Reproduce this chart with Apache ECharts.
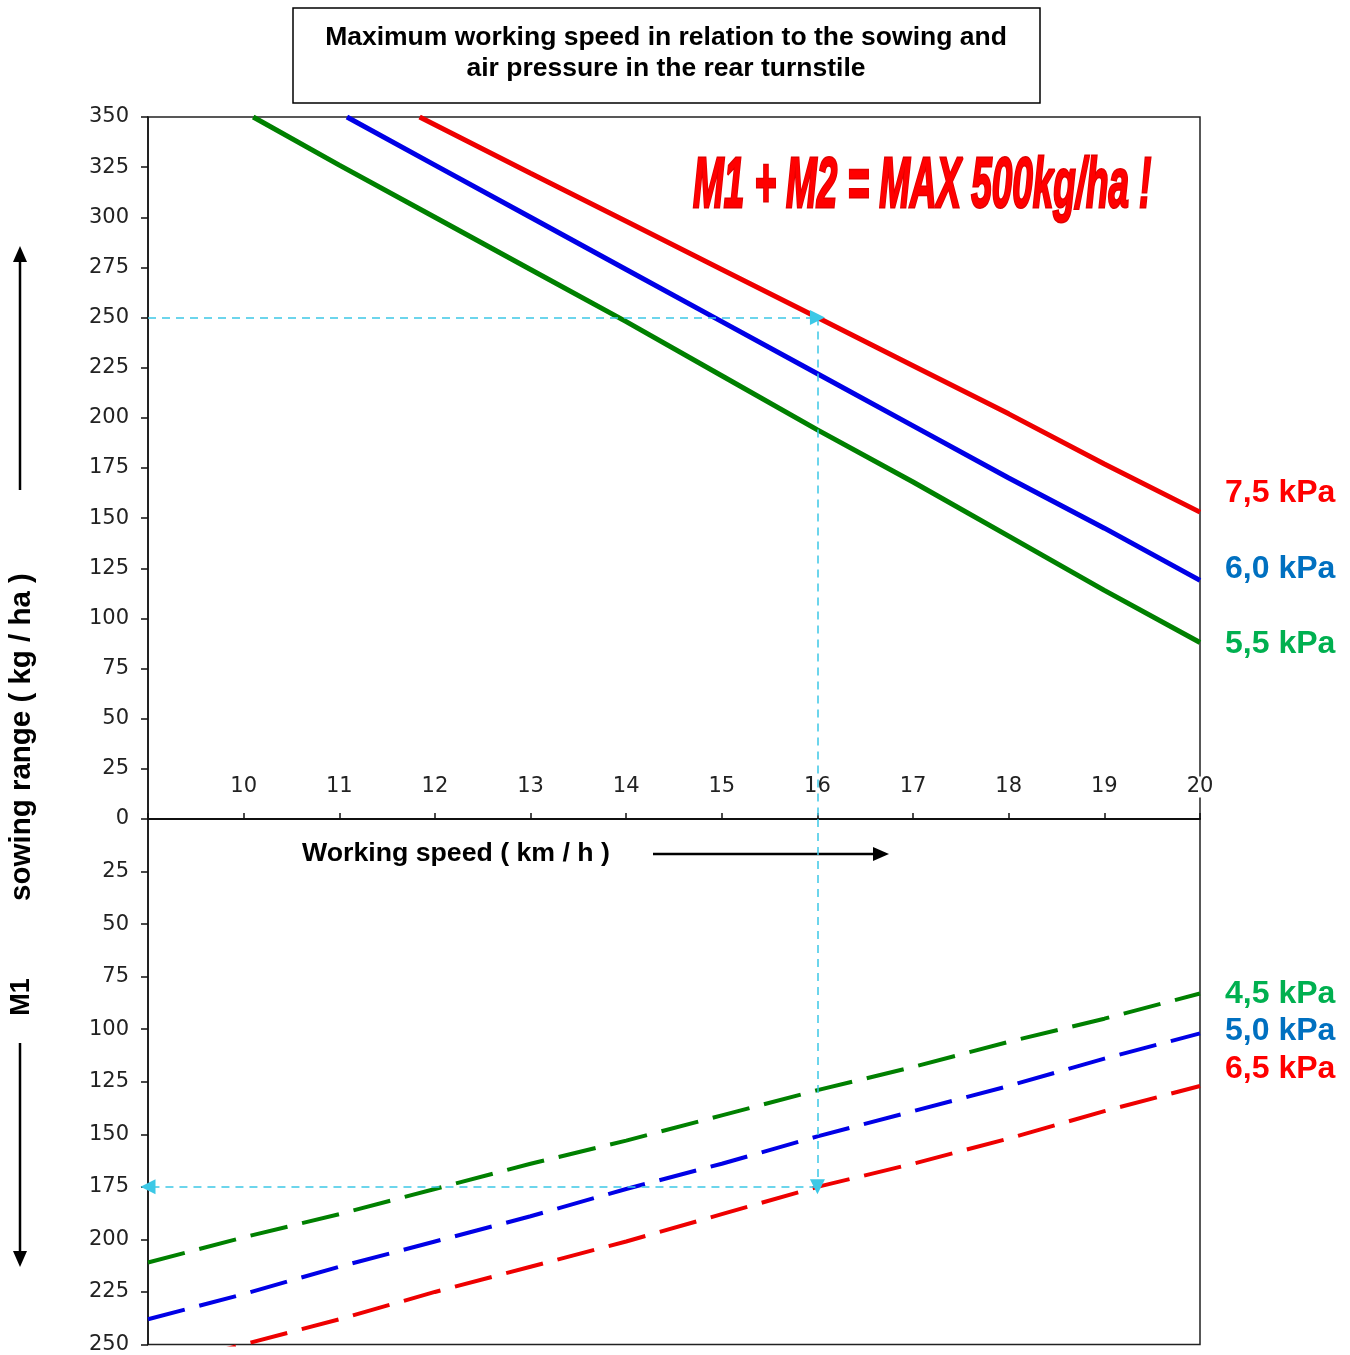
<!DOCTYPE html>
<html>
<head>
	<meta charset="utf-8">
	<title>Maximum working speed</title>
	<script type="text/javascript" src="https://cdn.jsdelivr.net/npm/echarts@6/dist/echarts.min.js"></script>
	<style type="text/css">
		body{ margin:0; background:#fff; }
		#chart{ width:1350px; height:1355px; }
	</style>
</head>
<body>
	<div id="chart"></div>
<script type="text/javascript">
	// upper part: sowing rate (kg/ha) vs working speed, per air pressure
	var speedRed75   = [11.84, 13, 14, 15, 16, 17, 18, 19, 20];
	var rateRed75    = [350, 322, 298, 274, 250, 226, 202, 177, 153];
	var speedBlue60  = [11.08, 12, 13, 14, 15, 16, 17, 18, 19, 20];
	var rateBlue60   = [350, 326, 300, 274, 248, 222, 196, 170, 145, 119];
	var speedGreen55 = [10.1, 11, 12, 13, 14, 15, 16, 17, 18, 19, 20];
	var rateGreen55  = [350, 326, 300, 274, 248, 221, 194, 168, 141, 114, 88];

	// lower part: M1 (kg/ha), axis pointing down
	var speedLow     = [9, 10, 11, 12, 13, 14, 15, 16, 17, 18, 19, 20];
	var rateGreen45  = [211, 199, 188, 176, 164, 153, 141, 129, 118, 106, 95, 83];
	var rateBlue50   = [238, 226, 213, 201, 189, 176, 164, 151, 139, 127, 114, 102];
	var rateRed65    = [262, 250, 238, 225, 213, 201, 188, 175, 164, 152, 139, 127];

	var labelsTop = [
		{ text: '7,5 kPa', color: '#ff0000', y: 493 },
		{ text: '6,0 kPa', color: '#0070c0', y: 569 },
		{ text: '5,5 kPa', color: '#00b050', y: 644 }
	];
	var labelsLow = [
		{ text: '4,5 kPa', color: '#00b050', y: 994 },
		{ text: '5,0 kPa', color: '#0070c0', y: 1031 },
		{ text: '6,5 kPa', color: '#ff0000', y: 1069 }
	];

	var FONT = '"Liberation Sans", Arial, sans-serif';
	var TICKFONT = '"DejaVu Sans", Verdana, sans-serif';
	var guide = '#3cc8e6';

	function pairs(xs, ys){
		var out = [];
		for (var i = 0; i < xs.length; i++) out.push([xs[i], ys[i]]);
		return out;
	}

	function lineSeries(name, xs, ys, color, grid, dashed){
		return {
			name: name,
			type: 'line',
			xAxisIndex: grid,
			yAxisIndex: grid,
			data: pairs(xs, ys),
			symbol: 'none',
			clip: true,
			silent: true,
			lineStyle: { color: color, width: dashed ? 4 : 5, type: dashed ? [38, 15] : 'solid' }
		};
	}

	function arrow(x1, y1, x2, y2){
		var ang = Math.atan2(y2 - y1, x2 - x1);
		var L = 16, W = 7;
		var bx = x2 - L * Math.cos(ang), by = y2 - L * Math.sin(ang);
		var nx = -Math.sin(ang) * W, ny = Math.cos(ang) * W;
		return [
			{ type: 'line', shape: { x1: x1, y1: y1, x2: bx, y2: by }, style: { stroke: '#000', lineWidth: 2.5 } },
			{ type: 'polygon', shape: { points: [[x2, y2], [bx + nx, by + ny], [bx - nx, by - ny]] }, style: { fill: '#000' } }
		];
	}

	var graphics = [
		{ type: 'rect', shape: { x: 293, y: 8, width: 747, height: 95 }, style: { fill: '#fff', stroke: '#000', lineWidth: 1.5 } },
		{ type: 'text', x: 666, y: 53, style: {
			text: 'Maximum working speed in relation to the sowing and\nair pressure in the rear turnstile',
			font: 'bold 26.5px ' + FONT, fill: '#000', align: 'center', verticalAlign: 'middle', lineHeight: 31 } },
		{ type: 'text', x: 693, y: 188, scaleX: 0.526, style: {
			text: 'M1 + M2 = MAX 500kg/ha !',
			font: 'italic bold 70px ' + FONT, fill: '#ff0000', stroke: '#e00000', lineWidth: 3,
			align: 'left', verticalAlign: 'middle',
			shadowColor: 'rgba(90,0,0,0.45)', shadowOffsetX: 2, shadowOffsetY: 3, shadowBlur: 2 } },
		{ type: 'text', x: 22, y: 737, rotation: Math.PI / 2, style: {
			text: 'sowing range ( kg / ha )', font: 'bold 29.5px ' + FONT, fill: '#000', align: 'center', verticalAlign: 'middle' } },
		{ type: 'text', x: 22, y: 997, rotation: Math.PI / 2, style: {
			text: 'M1', font: 'bold 27px ' + FONT, fill: '#000', align: 'center', verticalAlign: 'middle' } },
		{ type: 'text', x: 302, y: 854, style: {
			text: 'Working speed ( km / h )', font: 'bold 26.7px ' + FONT, fill: '#000', align: 'left', verticalAlign: 'middle' } }
	];
	graphics = graphics.concat(arrow(20, 490, 20, 246), arrow(20, 1043, 20, 1267), arrow(653, 854, 889, 854));
	labelsTop.concat(labelsLow).forEach(function(l){
		graphics.push({ type: 'text', x: 1225, y: l.y, style: {
			text: l.text, font: 'bold 32px ' + FONT, fill: l.color, align: 'left', verticalAlign: 'middle' } });
	});

	var myChart = echarts.init(document.getElementById('chart'));
	var option = {
		animation: false,
		grid: [
			{ left: 148, right: 150, top: 117, height: 702, show: true, borderColor: '#222', borderWidth: 1.5 },
			{ left: 148, right: 150, top: 819, height: 526, show: true, borderColor: '#222', borderWidth: 1.5 }
		],
		xAxis: [
			{
				gridIndex: 0, type: 'value', min: 9, max: 20, interval: 1, position: 'bottom',
				splitLine: { show: false },
				axisLine: { lineStyle: { color: '#111', width: 1.5 } },
				axisTick: { inside: true, length: 6, lineStyle: { color: '#111', width: 1.5 } },
				axisLabel: {
					inside: true, margin: 19,
					formatter: function(v){ return v === 9 ? '' : (v === 20 ? '{w|20}' : '{n|' + v + '}'); },
					rich: {
						n: { color: '#222', fontSize: 21, fontFamily: TICKFONT, lineHeight: 26 },
						w: { color: '#222', fontSize: 21, fontFamily: TICKFONT, lineHeight: 26, backgroundColor: '#fff' }
					}
				}
			},
			{
				gridIndex: 1, type: 'value', min: 9, max: 20, interval: 1, position: 'bottom',
				splitLine: { show: false },
				axisLine: { lineStyle: { color: '#111', width: 1.5 } },
				axisTick: { show: false },
				axisLabel: { show: false }
			}
		],
		yAxis: [
			{
				gridIndex: 0, type: 'value', min: 0, max: 350, interval: 25,
				splitLine: { show: false },
				axisLine: { show: true, lineStyle: { color: '#111', width: 1.5 } },
				axisTick: { show: true, length: 7, lineStyle: { color: '#111', width: 1.5 } },
				axisLabel: { margin: 19, color: '#222', fontSize: 21, fontFamily: TICKFONT, padding: [5, 0, 0, 0] }
			},
			{
				gridIndex: 1, type: 'value', min: 0, max: 250, interval: 25, inverse: true,
				splitLine: { show: false },
				axisLine: { show: true, lineStyle: { color: '#111', width: 1.5 } },
				axisTick: { show: true, length: 7, lineStyle: { color: '#111', width: 1.5 } },
				axisLabel: {
					margin: 19, color: '#222', fontSize: 21, fontFamily: TICKFONT, padding: [5, 0, 0, 0],
					formatter: function(v){ return v === 0 ? '' : String(v); }
				}
			}
		],
		graphic: graphics,
		series: [
			lineSeries('5,5 kPa', speedGreen55, rateGreen55, '#008000', 0, false),
			lineSeries('6,0 kPa', speedBlue60, rateBlue60, '#0000e6', 0, false),
			lineSeries('7,5 kPa', speedRed75, rateRed75, '#ee0000', 0, false),
			lineSeries('4,5 kPa', speedLow, rateGreen45, '#008000', 1, true),
			lineSeries('5,0 kPa', speedLow, rateBlue50, '#0000e6', 1, true),
			lineSeries('6,5 kPa', speedLow, rateRed65, '#ee0000', 1, true)
		]
	};

	// dashed reading guide: 16 km/h -> 250 kg/ha total -> 175 kg/ha M1
	option.series[2].markLine = {
		silent: true, symbol: 'none', symbolSize: 15,
		label: { show: false },
		lineStyle: { color: guide, type: [8, 6], width: 1.5 },
		data: [
			[{ coord: [9, 250] }, { coord: [16, 250], symbol: 'triangle' }],
			[{ coord: [16, 250] }, { coord: [16, 0] }]
		]
	};
	option.series[3].markLine = {
		silent: true, symbol: 'none', symbolSize: 15,
		label: { show: false },
		lineStyle: { color: guide, type: [8, 6], width: 1.5 },
		data: [
			[{ coord: [16, 0] }, { coord: [16, 175], symbol: 'triangle' }],
			[{ coord: [16, 175] }, { coord: [9, 175], symbol: 'triangle' }]
		]
	};

	myChart.setOption(option);
</script>
</body>
</html>
